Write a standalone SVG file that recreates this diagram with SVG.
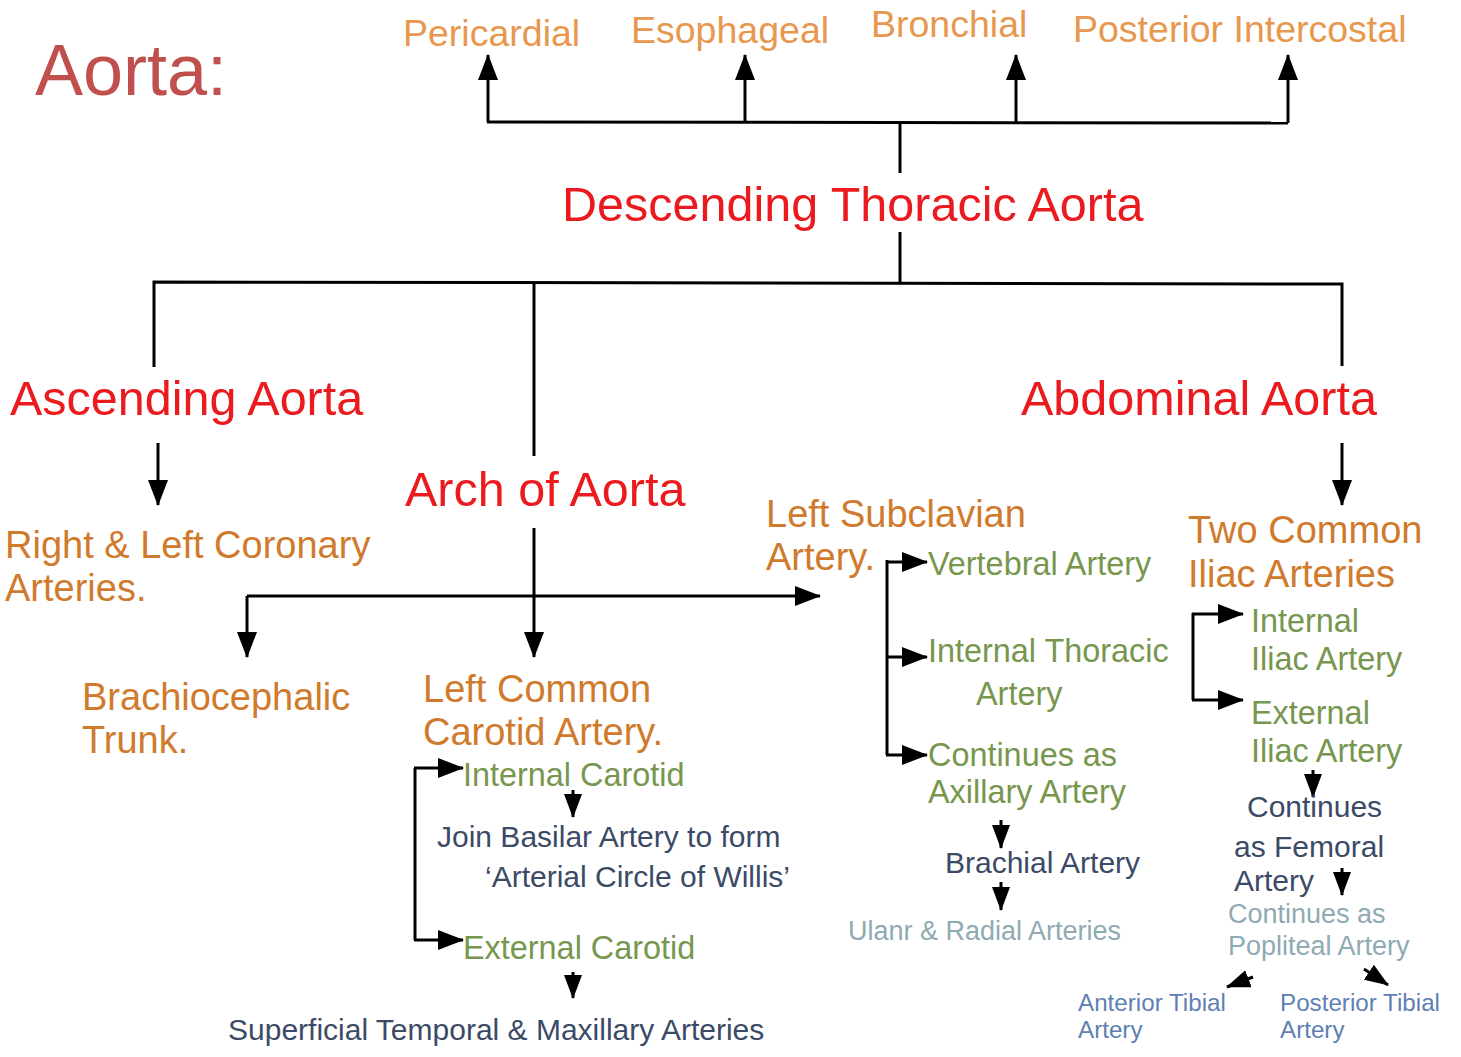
<svg xmlns="http://www.w3.org/2000/svg" width="1461" height="1057" viewBox="0 0 1461 1057">
<style>
text{font-family:"Liberation Sans",Arial,sans-serif}
.title{font-size:72px;fill:#C0504D}
.red{font-size:48.5px;fill:#EA1A1E}
.top{font-size:37.5px;fill:#E8974F}
.or{font-size:38px;fill:#D07A2D}
.gr{font-size:32.4px;fill:#77964E}
.db{font-size:30px;fill:#3B4A66}
.tl{font-size:27px;fill:#8EAAB2}
.bl{font-size:24.2px;fill:#5E80B3}
.ln{fill:none;stroke:#000;stroke-width:3}
.ar{marker-end:url(#ah)}
.sa{marker-end:url(#sh)}
</style>
<defs>
<marker id="ah" markerUnits="userSpaceOnUse" markerWidth="26" markerHeight="20" refX="25" refY="10" orient="auto"><path d="M0,0 L26,10 L0,20 z" fill="#000"/></marker>
<marker id="sh" markerUnits="userSpaceOnUse" markerWidth="24" markerHeight="18" refX="23" refY="9" orient="auto"><path d="M0,0 L24,9 L0,18 z" fill="#000"/></marker>
</defs>
<rect width="1461" height="1057" fill="#fff"/>
<g id="connectors">
<path class="ln" d="M487,122 L1288,123"/>
<path class="ln ar" d="M488,122 V55"/>
<path class="ln ar" d="M745,122 V55"/>
<path class="ln ar" d="M1016,122 V55"/>
<path class="ln ar" d="M1288,123 V55"/>
<path class="ln" d="M900,122 V173"/>
<path class="ln" d="M900,232 V282"/>
<path class="ln" d="M154,367 V282 L1342,284 V366"/>
<path class="ln" d="M534,282 V456"/>
<path class="ln ar" d="M158,443 V505"/>
<path class="ln ar" d="M1342,443 V505"/>
<path class="ln ar" d="M534,528 V657"/>
<path class="ln ar" d="M247,596 V657"/>
<path class="ln ar" d="M247,596 H820"/>
<path class="ln" d="M887,560 V755"/>
<path class="ln ar" d="M886,562 H927"/>
<path class="ln ar" d="M886,657 H927"/>
<path class="ln ar" d="M886,755 H927"/>
<path class="ln" d="M1193,613 V700"/>
<path class="ln ar" d="M1192,614 H1243"/>
<path class="ln ar" d="M1192,700 H1243"/>
<path class="ln" d="M415,768 V940"/>
<path class="ln ar" d="M414,768 H463"/>
<path class="ln ar" d="M414,940 H463"/>
<path class="ln sa" d="M573,790 V817"/>
<path class="ln sa" d="M573,972 V998"/>
<path class="ln sa" d="M1001,820 V848"/>
<path class="ln sa" d="M1001,882 V910"/>
<path class="ln sa" d="M1313,770 V797"/>
<path class="ln sa" d="M1342,868 V895"/>
<path class="ln sa" d="M1253,977 L1227,987"/>
<path class="ln sa" d="M1364,969 L1388,985"/>
</g>
<g id="title"><text class="title" x="35" y="95">Aorta:</text></g>
<g id="pericardial"><text class="top" x="403" y="46">Pericardial</text></g>
<g id="esophageal"><text class="top" x="631" y="43">Esophageal</text></g>
<g id="bronchial"><text class="top" x="871" y="37">Bronchial</text></g>
<g id="posterior-intercostal"><text class="top" x="1073" y="42">Posterior Intercostal</text></g>
<g id="descending-thoracic-aorta"><text class="red" x="562" y="221">Descending Thoracic Aorta</text></g>
<g id="ascending-aorta"><text class="red" x="10" y="415">Ascending Aorta</text></g>
<g id="abdominal-aorta"><text class="red" x="1021" y="415">Abdominal Aorta</text></g>
<g id="arch-of-aorta"><text class="red" x="405" y="506">Arch of Aorta</text></g>
<g id="coronary"><text class="or" x="5" y="558">Right &amp; Left Coronary</text><text class="or" x="5" y="601">Arteries.</text></g>
<g id="left-subclavian"><text class="or" x="766" y="527">Left Subclavian</text><text class="or" x="766" y="570">Artery.</text></g>
<g id="common-iliac"><text class="or" x="1188" y="543">Two Common</text><text class="or" x="1188" y="587">Iliac Arteries</text></g>
<g id="brachiocephalic"><text class="or" x="82" y="710">Brachiocephalic</text><text class="or" x="82" y="753">Trunk.</text></g>
<g id="left-common-carotid"><text class="or" x="423" y="702">Left Common</text><text class="or" x="423" y="745">Carotid Artery.</text></g>
<g id="vertebral"><text class="gr" x="928" y="575">Vertebral Artery</text></g>
<g id="internal-thoracic"><text class="gr" x="928" y="662">Internal Thoracic</text><text class="gr" x="976" y="705">Artery</text></g>
<g id="axillary"><text class="gr" x="928" y="766">Continues as</text><text class="gr" x="928" y="803">Axillary Artery</text></g>
<g id="brachial"><text class="db" x="945" y="873">Brachial Artery</text></g>
<g id="ulnar-radial"><text class="tl" x="848" y="940">Ulanr &amp; Radial Arteries</text></g>
<g id="internal-iliac"><text class="gr" x="1251" y="632">Internal</text><text class="gr" x="1251" y="670">Iliac Artery</text></g>
<g id="external-iliac"><text class="gr" x="1251" y="724">External</text><text class="gr" x="1251" y="762">Iliac Artery</text></g>
<g id="femoral"><text class="db" x="1247" y="817">Continues</text><text class="db" x="1234" y="857">as Femoral</text><text class="db" x="1234" y="891">Artery</text></g>
<g id="popliteal"><text class="tl" x="1228" y="923">Continues as</text><text class="tl" x="1228" y="955">Popliteal Artery</text></g>
<g id="anterior-tibial"><text class="bl" x="1078" y="1011">Anterior Tibial</text><text class="bl" x="1078" y="1038">Artery</text></g>
<g id="posterior-tibial"><text class="bl" x="1280" y="1011">Posterior Tibial</text><text class="bl" x="1280" y="1038">Artery</text></g>
<g id="internal-carotid"><text class="gr" x="463" y="786">Internal Carotid</text></g>
<g id="circle-of-willis"><text class="db" x="437" y="847">Join Basilar Artery to form</text><text class="db" x="485" y="887">‘Arterial Circle of Willis’</text></g>
<g id="external-carotid"><text class="gr" x="463" y="959">External Carotid</text></g>
<g id="temporal-maxillary"><text class="db" x="228" y="1040">Superficial Temporal &amp; Maxillary Arteries</text></g>
</svg>
